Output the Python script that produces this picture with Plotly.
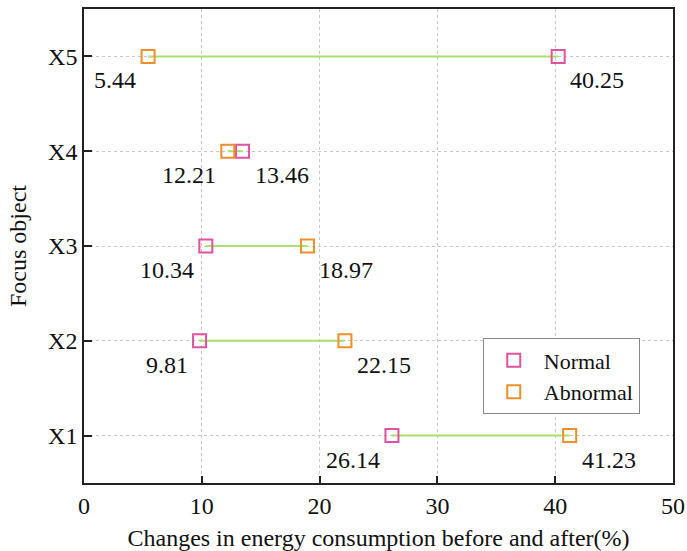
import plotly.graph_objects as go

categories = ["X1", "X2", "X3", "X4", "X5"]
normal = [26.14, 9.81, 10.34, 13.46, 40.25]
abnormal = [41.23, 22.15, 18.97, 12.21, 5.44]
x_ticks = [0, 10, 20, 30, 40, 50]

FONT = "Liberation Serif, Times New Roman, serif"
FS = 24
PINK = "#e2529f"
ORANGE = "#ef8e2a"
GREEN = "#a9e06b"

fig = go.Figure()

# connecting segments
lx, ly = [], []
for c, n, a in zip(categories, normal, abnormal):
    lx += [n, a, None]
    ly += [c, c, None]
fig.add_trace(go.Scatter(x=lx, y=ly, mode="lines", line=dict(color=GREEN, width=2),
                         showlegend=False, hoverinfo="skip"))

fig.add_trace(go.Scatter(x=normal, y=categories, mode="markers", name="Normal",
                         marker=dict(symbol="square-open", size=13, color=PINK,
                                     line=dict(width=2, color=PINK))))
fig.add_trace(go.Scatter(x=abnormal, y=categories, mode="markers", name="Abnormal",
                         marker=dict(symbol="square-open", size=13, color=ORANGE,
                                     line=dict(width=2, color=ORANGE))))

# value labels: smaller value below-left, larger value below-right
for c, n, a in zip(categories, normal, abnormal):
    lo, hi = min(n, a), max(n, a)
    fig.add_annotation(x=lo, y=c, text=f"{lo:.2f}", showarrow=False,
                       xanchor="right", yanchor="middle", xshift=-10, yshift=-24,
                       font=dict(family=FONT, size=FS, color="#111"))
    fig.add_annotation(x=hi, y=c, text=f"{hi:.2f}", showarrow=False,
                       xanchor="left", yanchor="middle", xshift=10, yshift=-24,
                       font=dict(family=FONT, size=FS, color="#111"))

fig.update_layout(
    width=687, height=551,
    margin=dict(l=84, r=14, t=9, b=68),
    paper_bgcolor="white", plot_bgcolor="white",
    font=dict(family=FONT, size=FS, color="#111"),
    legend=dict(x=0.677, y=0.305, xanchor="left", yanchor="top",
                bordercolor="#888", borderwidth=1, bgcolor="white",
                font=dict(family=FONT, size=22), itemwidth=50,
                tracegroupgap=0),
    xaxis=dict(range=[0, 50], tickvals=x_ticks, ticks="inside", ticklen=7,
               tickwidth=1.5, tickcolor="#222", automargin=False,
               showline=True, linecolor="#222", linewidth=1.5, mirror=True,
               showgrid=True, gridcolor="#c8c8c8", griddash="dot", gridwidth=1,
               zeroline=False,
               title=dict(text="Changes in energy consumption before and after(%)",
                          font=dict(family=FONT, size=FS)),
               tickfont=dict(family=FONT, size=FS)),
    yaxis=dict(range=[-0.5, 4.5], categoryorder="array", categoryarray=categories,
               type="category", ticks="inside", ticklen=8, tickwidth=1.5,
               tickcolor="#222", automargin=False,
               showline=True, linecolor="#222", linewidth=1.5, mirror=True,
               showgrid=True, gridcolor="#c8c8c8", griddash="dot", gridwidth=1,
               zeroline=False,
               title=dict(text="Focus object", font=dict(family=FONT, size=FS)),
               tickfont=dict(family=FONT, size=FS)),
)

fig.write_html("out.html", config={"displayModeBar": False},
               post_script="document.body.style.margin='0';")
